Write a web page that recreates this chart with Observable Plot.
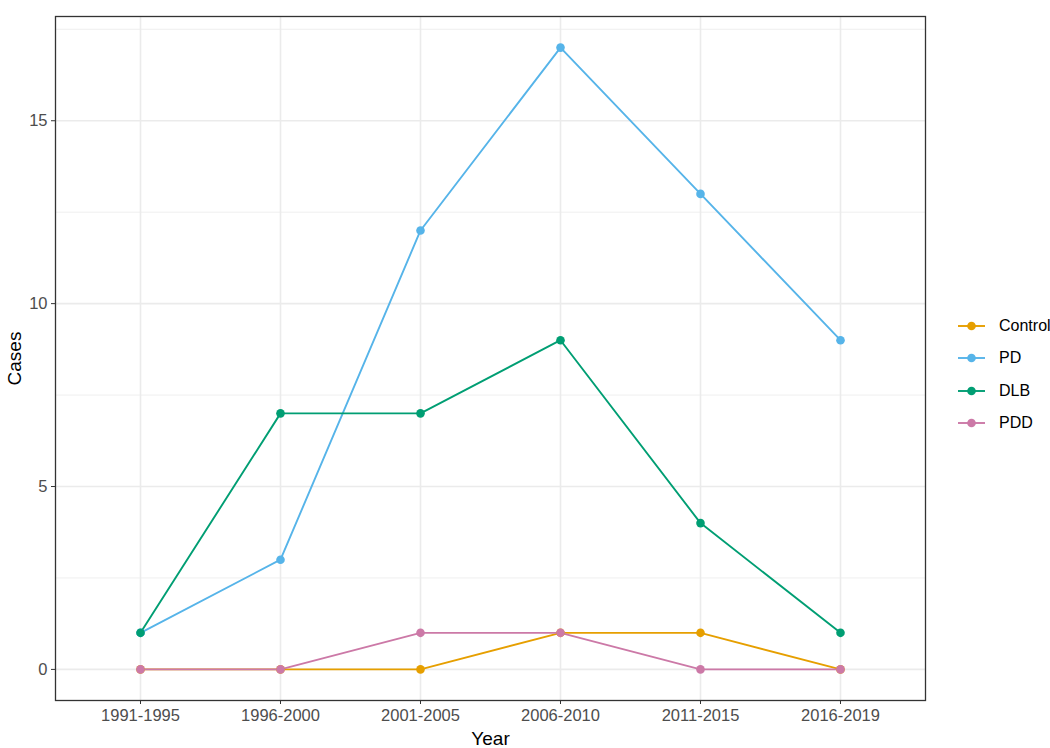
<!DOCTYPE html>
<html>
<head>
<meta charset="utf-8">
<script src="https://cdn.jsdelivr.net/npm/d3@7"></script>
<script src="https://cdn.jsdelivr.net/npm/@observablehq/plot@0.6"></script>
<style>
  html, body { margin: 0; padding: 0; background: #fff; }
  #wrap { position: relative; width: 1050px; height: 748px; font-family: "Liberation Sans", Arial, Helvetica, sans-serif; }
  #legend { position: absolute; left: 957px; top: 310px; }
  .item { display: flex; align-items: center; height: 32.3px; font-size: 16px; color: #000; }
  .item svg { margin-right: 12px; }
</style>
</head>
<body>
<div id="wrap"><div id="chart"></div><div id="legend"></div></div>
<script>
const years = ["1991-1995", "1996-2000", "2001-2005", "2006-2010", "2011-2015", "2016-2019"];
const groups = ["Control", "PD", "DLB", "PDD"];
const colors = ["#E69F00", "#56B4E9", "#009E73", "#CC79A7"];
const control = [0, 0, 0, 1, 1, 0];
const pd = [1, 3, 12, 17, 13, 9];
const dlb = [1, 7, 7, 9, 4, 1];
const pdd = [0, 0, 1, 1, 0, 0];
const majorY = [0, 5, 10, 15];
const minorY = [2.5, 7.5, 12.5, 17.5];

const series = [control, pd, dlb, pdd];
const data = [];
groups.forEach((g, gi) => years.forEach((y, i) => data.push({group: g, year: y, cases: series[gi][i]})));

const font = "'Liberation Sans', Arial, Helvetica, sans-serif";
const chart = Plot.plot({
  width: 1050,
  height: 748,
  marginLeft: 55,
  marginRight: 125,
  marginTop: 16,
  marginBottom: 48,
  style: {fontFamily: font, background: "#fff"},
  x: {type: "point", domain: years, padding: 0.6, label: null},
  y: {domain: [-0.85, 17.85], label: null},
  color: {domain: groups, range: colors},
  marks: [
    Plot.ruleY(minorY, {stroke: "#ebebeb", strokeWidth: 0.8}),
    Plot.ruleY(majorY, {stroke: "#ebebeb", strokeWidth: 1.6}),
    Plot.ruleX(years, {stroke: "#ebebeb", strokeWidth: 1.6}),
    Plot.line(data, {x: "year", y: "cases", z: "group", stroke: "group", strokeWidth: 1.9}),
    Plot.dot(data, {x: "year", y: "cases", fill: "group", r: 4.3, stroke: "none"}),
    Plot.frame({stroke: "#333", strokeWidth: 1.3}),
    Plot.axisY(majorY, {tickSize: 4, tickPadding: 4, fontSize: 16.5, color: "#4d4d4d", stroke: "#333",
      label: "Cases", labelAnchor: "center", labelOffset: 48, labelArrow: "none"}),
    Plot.axisX(years, {tickSize: 4, tickPadding: 5, fontSize: 16.5, color: "#4d4d4d", stroke: "#333",
      label: "Year", labelAnchor: "center", labelOffset: 44, labelArrow: "none"})
  ]
});
document.getElementById("chart").appendChild(chart);
chart.querySelectorAll("g[aria-label='y-axis label'], g[aria-label='x-axis label']").forEach(g => {
  g.setAttribute("font-size", "19px");
  g.setAttribute("fill", "#000");
  g.querySelectorAll("text").forEach(t => { t.setAttribute("font-size", "19px"); t.style.fill = "#000"; });
});

const legend = document.getElementById("legend");
groups.forEach((g, i) => {
  const div = document.createElement("div");
  div.className = "item";
  div.innerHTML = `<svg width="30" height="12"><line x1="1" x2="28" y1="6" y2="6" stroke="${colors[i]}" stroke-width="1.9"/><circle cx="14.5" cy="6" r="4.3" fill="${colors[i]}"/></svg><span>${g}</span>`;
  legend.appendChild(div);
});
</script>
</body>
</html>
